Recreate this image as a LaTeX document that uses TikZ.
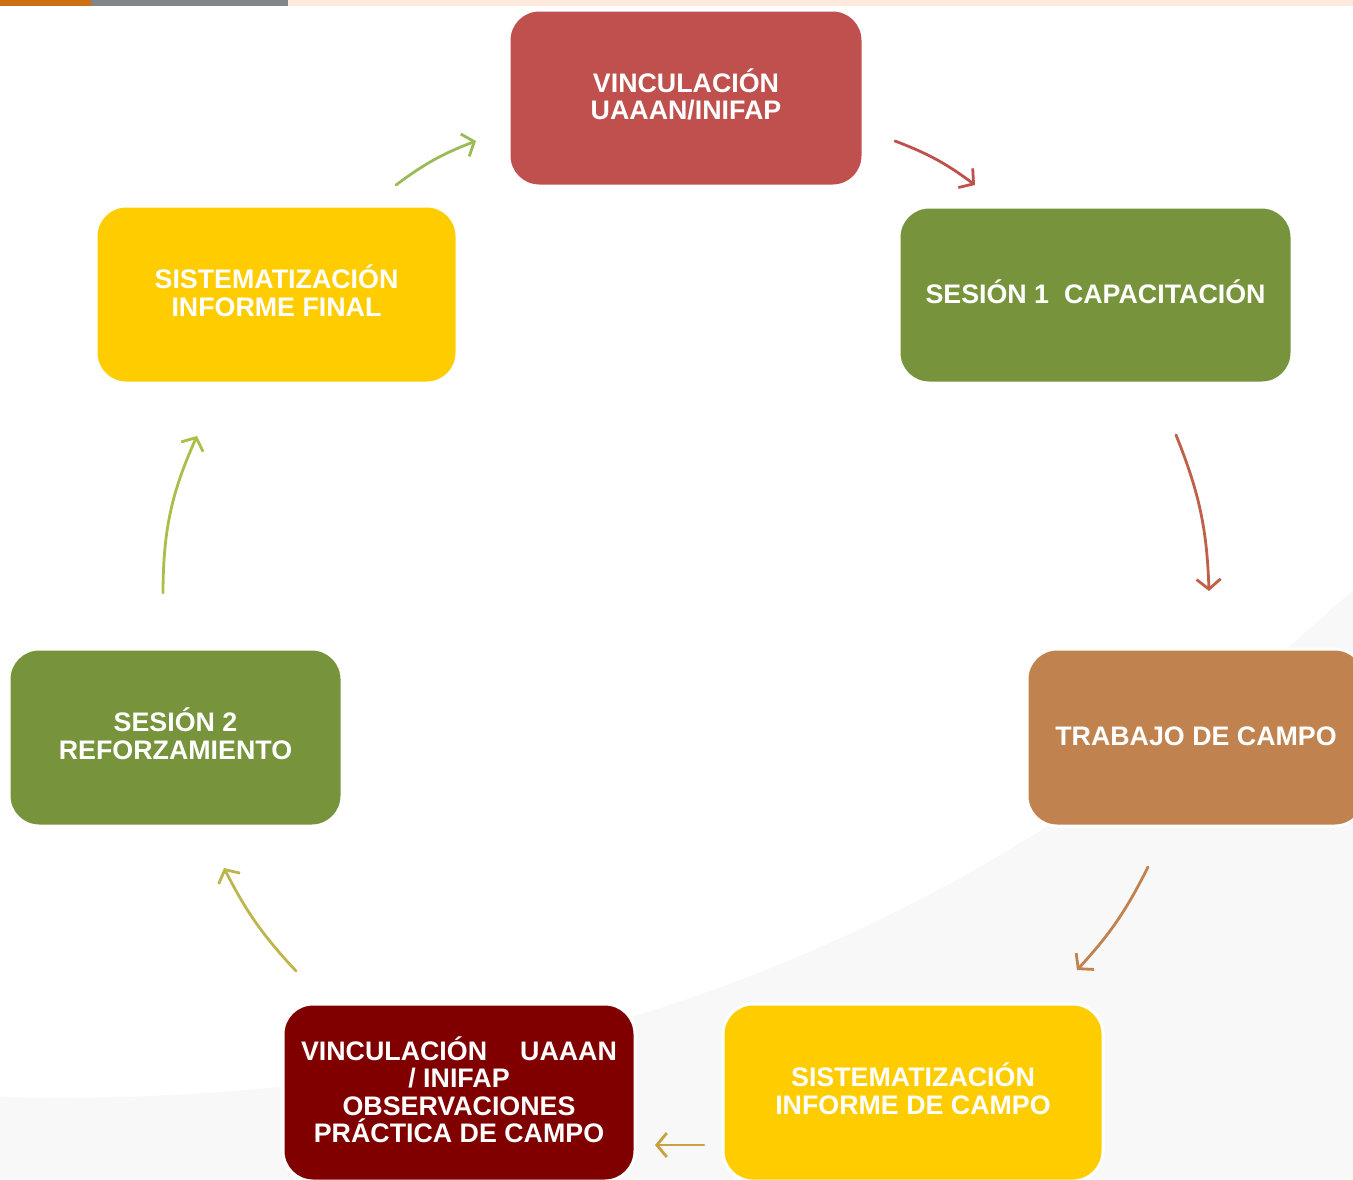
\documentclass[tikz,border=0pt]{standalone}
\usepackage{fontspec}
\setmainfont{Liberation Sans}
\usetikzlibrary{arrows.meta}
\definecolor{cred}{HTML}{C0504D}
\definecolor{cgreen}{HTML}{77933C}
\definecolor{cbrown}{HTML}{C0834F}
\definecolor{cyellow}{HTML}{FFCC00}
\definecolor{cmaroon}{HTML}{800000}
\definecolor{bggray}{HTML}{F8F8F8}
\definecolor{barorange}{HTML}{CC6F12}
\definecolor{bargray}{HTML}{818589}
\definecolor{barpeach}{HTML}{FDE9DB}
\definecolor{ar1}{HTML}{C0504D}
\definecolor{ar2}{HTML}{C0604A}
\definecolor{ar3}{HTML}{C0834F}
\definecolor{ar4}{HTML}{C9A13E}
\definecolor{ar5}{HTML}{BDB54E}
\definecolor{ar6}{HTML}{A8C04A}
\definecolor{ar7}{HTML}{9BBB59}
\tikzset{
  stagebox/.style={rectangle, rounded corners=30pt, draw=white, line width=3pt,
    inner sep=0pt, text=white, align=center, text depth=0pt,
    font=\fontsize{26.8}{27.5}\selectfont\bfseries},
  oneline/.style={text height=16pt},
  twolines/.style={text height=43pt},
  fourlines/.style={text height=100pt},
  cyclearrow/.style={line width=2.8pt, line cap=round,
    -{Straight Barb[length=10pt,width=24pt,line width=2.8pt]}},
}
\begin{document}
\begin{tikzpicture}[x=1pt,y=-1pt]
\useasboundingbox (0,0) rectangle (1353,1179);
\clip (0,0) rectangle (1353,1179);
% background
\fill[white] (0,0) rectangle (1353,1179);
\fill[bggray] (0,1097) .. controls (700,1115) and (1100,820) .. (1353,590) -- (1353,1179) -- (0,1179) -- cycle;
% top bar
\fill[barorange] (0,0) rectangle (91,6);
\fill[bargray] (91,0) rectangle (288,6);
\fill[barpeach] (288,0) rectangle (1353,6);
% boxes
\node[stagebox, twolines, fill=cred, minimum width=354pt, minimum height=176pt] (b1) at (686,98)
  {VINCULACIÓN\\UAAAN/INIFAP};
\node[stagebox, oneline, fill=cgreen, minimum width=393pt, minimum height=176pt] (b2) at (1095.5,295)
  {SESIÓN 1\ \ CAPACITACIÓN};
\node[stagebox, oneline, fill=cbrown, minimum width=338pt, minimum height=177pt] (b3) at (1196,737.5)
  {TRABAJO DE CAMPO};
\node[stagebox, twolines, fill=cyellow, minimum width=380pt, minimum height=177pt] (b4) at (913,1092.5)
  {SISTEMATIZACIÓN\\INFORME DE CAMPO};
\node[stagebox, fourlines, fill=cmaroon, minimum width=352pt, minimum height=177pt] (b5) at (459,1092.5)
  {\makebox[316pt]{VINCULACIÓN\hfill UAAAN}\\/ INIFAP\\OBSERVACIONES\\PRÁCTICA DE CAMPO};
\node[stagebox, twolines, fill=cgreen, minimum width=333pt, minimum height=177pt] (b6) at (175.5,737.5)
  {SESIÓN 2\\REFORZAMIENTO};
\node[stagebox, twolines, fill=cyellow, minimum width=361pt, minimum height=177pt] (b7) at (276.5,294.5)
  {SISTEMATIZACIÓN\\INFORME FINAL};
% arrow end points
\coordinate (a1s) at (895,141); \coordinate (a1e) at (975,185);
\coordinate (a2s) at (1176,435); \coordinate (a2e) at (1209,591);
\coordinate (a3s) at (1148,867); \coordinate (a3e) at (1077,970);
\coordinate (a4s) at (704,1145); \coordinate (a4e) at (655,1145);
\coordinate (a5s) at (296,971); \coordinate (a5e) at (224,868);
\coordinate (a6s) at (163,593); \coordinate (a6e) at (197,436);
\coordinate (a7s) at (396,185); \coordinate (a7e) at (476,141);
\draw[cyclearrow, ar1] (a1s) to[bend left=8] (a1e);
\draw[cyclearrow, ar2] (a2s) to[bend left=10] (a2e);
\draw[cyclearrow, ar3] (a3s) to[bend left=8] (a3e);
\draw[cyclearrow, ar4] (a4s) -- (a4e);
\draw[cyclearrow, ar5] (a5s) to[bend left=8] (a5e);
\draw[cyclearrow, ar6] (a6s) to[bend left=12] (a6e);
\draw[cyclearrow, ar7] (a7s) to[bend left=8] (a7e);
\end{tikzpicture}
\end{document}
